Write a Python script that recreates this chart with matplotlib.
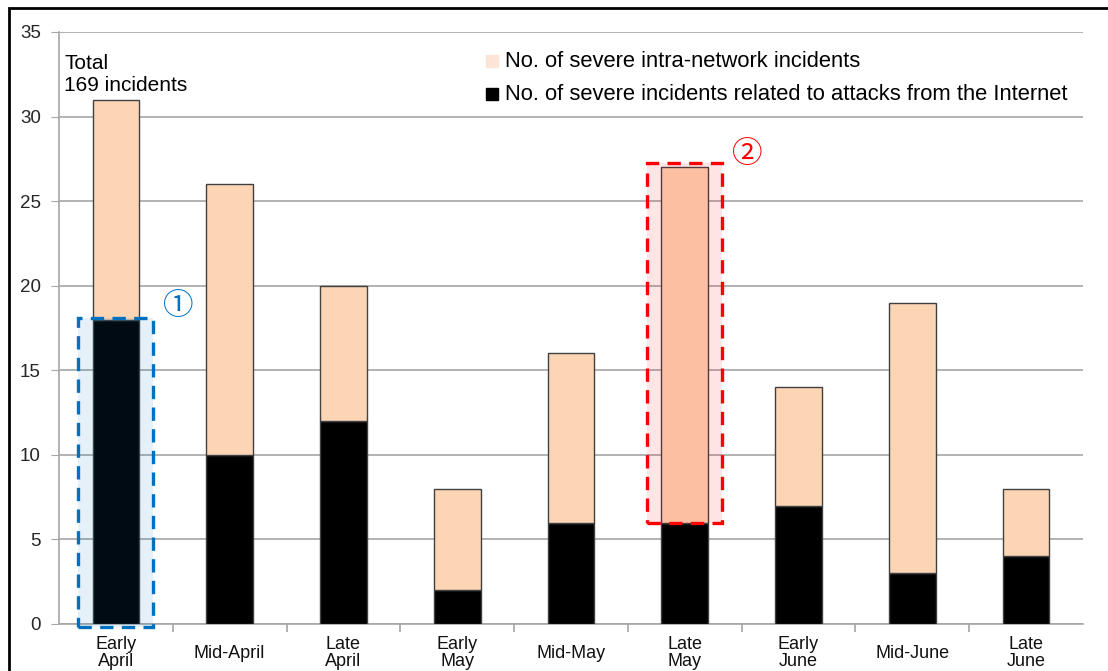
import matplotlib.pyplot as plt
from matplotlib.patches import Rectangle
import numpy as np

plt.rcParams['font.family'] = ['Liberation Sans', 'DejaVu Sans']

# ten-day periods, April to June
periods = ['Early\nApril', 'Mid-April', 'Late\nApril', 'Early\nMay', 'Mid-May',
           'Late\nMay', 'Early\nJune', 'Mid-June', 'Late\nJune']
internet = [18, 10, 12, 2, 6, 6, 7, 3, 4]       # attacks from the Internet
totals = [31, 26, 20, 8, 16, 27, 14, 19, 8]      # all severe incidents
intra = [t - i for t, i in zip(totals, internet)]

PINK = '#FCD5B4'
BLUE = '#0070C0'
RED = '#FF0000'


def main():
    fig = plt.figure(figsize=(11.08, 6.71), dpi=100)
    ax = fig.add_axes([59 / 1108, 1 - 624 / 671, 1024 / 1108, 592 / 671])

    x = np.arange(len(periods))
    ax.bar(x, internet, width=0.41, color='black', edgecolor='#404040',
           linewidth=1, zorder=3)
    ax.bar(x, intra, width=0.41, bottom=internet, color=PINK,
           edgecolor='#404040', linewidth=1, zorder=3)

    ax.set_xlim(-0.5, len(periods) - 0.5)
    ax.set_ylim(0, 35)
    ax.set_yticks(range(0, 36, 5))
    ax.yaxis.grid(True, color='#A6A6A6', linewidth=1.2, zorder=0)
    ax.tick_params(axis='y', length=6, color='#A6A6A6', labelsize=13.5,
                   labelcolor='#262626', pad=7)
    ax.set_xticks(np.arange(0.5, len(periods) - 0.5, 1))
    ax.set_xticklabels([])
    ax.tick_params(axis='x', length=6, color='#A6A6A6', width=1.2)
    for s in ['top', 'right']:
        ax.spines[s].set_visible(False)
    for s in ['left', 'bottom']:
        ax.spines[s].set_color('#A6A6A6')
        ax.spines[s].set_linewidth(1.2)

    # category labels, vertically centred under each bar
    for xi, lab in zip(x, periods):
        ax.text(xi, -0.049, lab, transform=ax.get_xaxis_transform(),
                ha='center', va='center', fontsize=13, linespacing=1.0,
                color='#111111', clip_on=False)

    ax.text(0.005, 0.962, 'Total\n169 incidents', transform=ax.transAxes,
            ha='left', va='top', fontsize=15, linespacing=1.15)

    # legend drawn by hand as two marker rows
    for yy, col, lab in [(0.951, '#FCE4D6', 'No. of severe intra-network incidents'),
                         (0.895, 'black',
                          'No. of severe incidents related to attacks from the Internet')]:
        ax.plot([0.4225], [yy], marker='s', markersize=9, color=col,
                transform=ax.transAxes, clip_on=False, zorder=5)
        ax.text(0.4355, yy, lab, transform=ax.transAxes, ha='left',
                va='center', fontsize=15.8, zorder=5)

    # highlight boxes over Early April internet part and Late May intra part
    for xi, y0, y1, col in [(0, -0.2, 18.1, BLUE), (5, 6.0, 27.25, RED)]:
        ax.add_patch(Rectangle((xi - 0.33, y0), 0.66, y1 - y0, facecolor=col,
                               alpha=0.1, edgecolor='none', zorder=4,
                               clip_on=False))
        ax.add_patch(Rectangle((xi - 0.33, y0), 0.66, y1 - y0,
                               facecolor='none', edgecolor=col, linewidth=2.4,
                               linestyle=(0, (4, 2.5)), zorder=5,
                               clip_on=False))
    ax.text(0.55, 18.8, '\u2460', color=BLUE, fontsize=22, ha='center',
            va='center', family=['Noto Sans CJK JP', 'DejaVu Sans'], zorder=6)
    ax.text(5.55, 27.75, '\u2461', color=RED, fontsize=22, ha='center',
            va='center', family=['Noto Sans CJK JP', 'DejaVu Sans'], zorder=6)

    # outer frame around the whole chart
    fig.add_artist(Rectangle((9 / 1108, -0.1), 1.2, 1.1 - 9 / 671 + 0.001,
                             transform=fig.transFigure, facecolor='none',
                             edgecolor='black', linewidth=2))

    fig.savefig('out.png', dpi=100)


if __name__ == '__main__':
    main()
